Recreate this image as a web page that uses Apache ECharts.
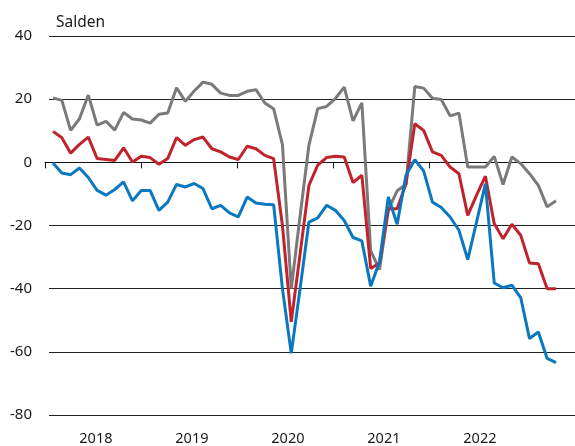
<!DOCTYPE html>
<html>
<head>
<meta charset="utf-8">
<script src="https://cdn.jsdelivr.net/npm/echarts@6/dist/echarts.min.js"></script>
<style>
html,body{margin:0;padding:0;background:#fff;}
#chart{width:575px;height:446px;}
</style>
</head>
<body>
<div id="chart"></div>
<script>
var months = [
 '2018-01','2018-02','2018-03','2018-04','2018-05','2018-06','2018-07','2018-08','2018-09','2018-10','2018-11','2018-12',
 '2019-01','2019-02','2019-03','2019-04','2019-05','2019-06','2019-07','2019-08','2019-09','2019-10','2019-11','2019-12',
 '2020-01','2020-02','2020-03','2020-04','2020-05','2020-06','2020-07','2020-08','2020-09','2020-10','2020-11','2020-12',
 '2021-01','2021-02','2021-03','2021-04','2021-05','2021-06','2021-07','2021-08','2021-09','2021-10','2021-11','2021-12',
 '2022-01','2022-02','2022-03','2022-04','2022-05','2022-06','2022-07','2022-08','2022-09','2022-10'
];
var yearLabels = ['2018','2019','2020','2021','2022'];
var yTicks = {min:-80, max:40, step:20};

var grayValues = [20.4,19.6,10.1,13.8,21.3,11.8,13.0,10.2,15.8,13.7,13.4,12.4,
 15.2,15.6,23.6,19.3,22.6,25.4,24.7,21.9,21.2,21.2,22.5,23.0,
 18.8,17.0,5.6,-40,-17,5.4,17,17.7,20.2,23.8,13.1,18.8,
 -28,-34,-15,-9,-7,24,23.5,20.3,19.9,14.7,15.6,-1.5,
 -1.5,-1.5,1.9,-7,1.7,-0.4,-3.6,-7.3,-14.1,-12.2];
var redValues = [9.8,7.8,2.9,5.7,8.0,1.2,0.9,0.6,4.6,0.1,1.9,1.5,
 -0.6,1.2,7.8,5.4,7.2,8.0,4.3,3.3,1.7,0.9,5.1,4.3,
 2.2,1.2,-20,-50.5,-29,-7.3,-0.9,1.5,1.9,1.7,-6.4,-4.1,
 -33.6,-31.9,-14.7,-14.7,-6.8,12.2,10.1,3.3,2.2,-1.5,-3.6,-16.8,
 -10.4,-4.4,-19.4,-24.2,-19.6,-23.1,-31.9,-32.1,-40,-40];
var blueValues = [-0.2,-3.4,-3.9,-1.8,-4.8,-8.9,-10.4,-8.6,-6.2,-12.2,-8.9,-8.9,
 -15.2,-12.6,-7.0,-7.8,-6.7,-8.3,-14.7,-13.6,-16.0,-17.3,-11.0,-12.9,
 -13.3,-13.4,-40,-60.5,-40,-18.9,-17.6,-13.6,-15.2,-18.4,-23.8,-24.9,
 -39.2,-31.5,-11.0,-19.6,-4.1,0.8,-2.7,-12.6,-14.3,-17.3,-21.5,-30.8,
 -18.9,-6.8,-38.2,-39.7,-38.9,-42.8,-55.8,-53.7,-62.1,-63.4];

var font = '"Noto Sans", "Open Sans", sans-serif';
var textColor = '#1a1a1a';
var yearSpan = 530 / 96;

var chart = echarts.init(document.getElementById('chart'), null, {renderer:'canvas'});
chart.setOption({
  animation:false,
  backgroundColor:'#fff',
  title:{text:'Salden', left:51, top:10, textStyle:{fontFamily:font, fontSize:15.5, fontWeight:'normal', color:textColor}},
  grid:[
    {left:49, right:0, top:36, bottom:31},
    {left:53, right:19, top:36, bottom:31},
    {left:45, right:0, top:36, bottom:31}
  ],
  xAxis:[
    {gridIndex:0, type:'value', min:0, max:1, show:false},
    {gridIndex:1, type:'category', data:months, boundaryGap:false, show:false},
    {gridIndex:2, type:'value', min:0, max:yearSpan,
      axisLine:{show:true, lineStyle:{color:'#111', width:1}},
      axisTick:{show:true, length:6, lineStyle:{color:'#111', width:1}, customValues:[0,1,2,3,4]},
      axisLabel:{show:true, margin:16, fontFamily:font, fontSize:14.5, color:textColor,
        customValues:[0.53,1.53,2.53,3.53,4.53],
        formatter:function(v){ return yearLabels[Math.floor(v)] || ''; }},
      splitLine:{show:false}
    }
  ],
  yAxis:[
    {gridIndex:0, type:'value', min:yTicks.min, max:yTicks.max, interval:yTicks.step,
      axisLine:{show:false}, axisTick:{show:false},
      axisLabel:{margin:17, fontFamily:font, fontSize:15, color:textColor},
      splitLine:{show:true, lineStyle:{color:'#222', width:1}}
    },
    {gridIndex:1, type:'value', min:yTicks.min, max:yTicks.max, show:false},
    {gridIndex:2, type:'value', min:yTicks.min, max:yTicks.max, show:false, splitLine:{show:false}}
  ],
  series:[
    {type:'line', xAxisIndex:1, yAxisIndex:1, data:grayValues, showSymbol:false, symbol:'none',
      lineStyle:{color:'#7a7a7a', width:3}, itemStyle:{color:'#7a7a7a'}},
    {type:'line', xAxisIndex:1, yAxisIndex:1, data:redValues, showSymbol:false, symbol:'none',
      lineStyle:{color:'#c0232c', width:3}, itemStyle:{color:'#c0232c'}},
    {type:'line', xAxisIndex:1, yAxisIndex:1, data:blueValues, showSymbol:false, symbol:'none',
      lineStyle:{color:'#0a78c0', width:3}, itemStyle:{color:'#0a78c0'}}
  ]
});
</script>
</body>
</html>
